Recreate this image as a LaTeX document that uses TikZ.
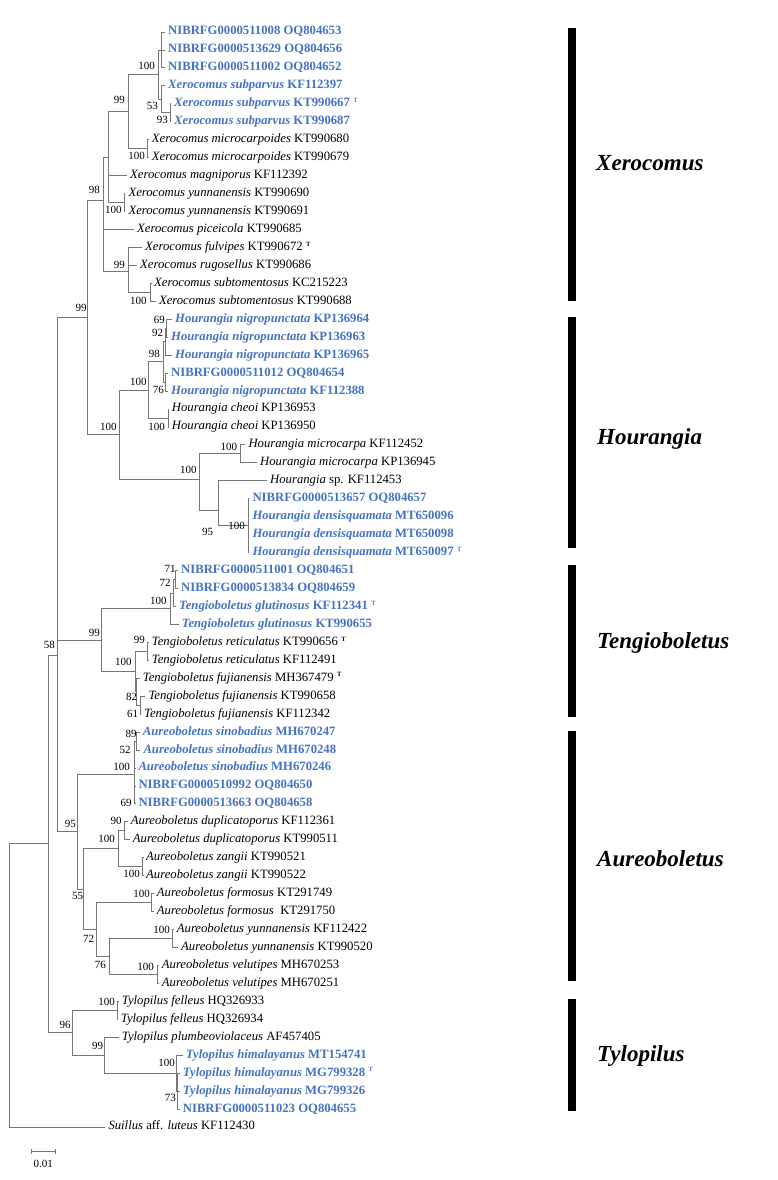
\documentclass[tikz,border=0pt]{standalone}
\usepackage{fontspec}
\setmainfont{Liberation Serif}
\usepackage{xcolor}
\usepackage{tikz}
\usetikzlibrary{positioning}
\definecolor{nibblue}{RGB}{68,114,196}
\definecolor{brgray}{RGB}{118,118,118}
\def\sn#1#2{\textit{#1} #2}
\def\bsn#1#2{\textcolor{nibblue}{\bfseries\textit{#1} #2}}
\def\nib#1{\textcolor{nibblue}{\bfseries #1}}
\def\ty{\hspace{3.5pt}\raisebox{4.3pt}{\fontsize{6.5}{7}\selectfont\bfseries T}}
\tikzset{
  br/.style={brgray, line width=0.8pt},
  leaf/.style={anchor=west, inner xsep=3pt, inner ysep=0pt, text height=9pt, text depth=3pt, font=\fontsize{12.7}{14}\selectfont},
  bs/.style={anchor=base east, inner sep=0pt, font=\fontsize{11}{12}\selectfont},
  clade/.style={anchor=base west, inner sep=0pt, font=\fontsize{23}{26}\selectfont\bfseries\itshape},
  cbar/.style={fill=black}
}

\begin{document}
\begin{tikzpicture}[x=1pt, y=-1pt]
\useasboundingbox (0,0) rectangle (777,1180);

% leaves
\node[leaf] (l1) at (165,32.00) {\nib{NIBRFG0000511008 OQ804653}};
\node[leaf] (l2) at (165,49.95) {\nib{NIBRFG0000513629 OQ804656}};
\node[leaf] (l3) at (165,67.90) {\nib{NIBRFG0000511002 OQ804652}};
\node[leaf] (l4) at (165,85.85) {\bsn{Xerocomus subparvus}{KF112397}};
\node[leaf] (l5) at (171,103.80) {\bsn{Xerocomus subparvus}{KT990667\ty}};
\node[leaf] (l6) at (171,121.75) {\bsn{Xerocomus subparvus}{KT990687}};
\node[leaf] (l7) at (148.7,139.70) {\sn{Xerocomus microcarpoides}{KT990680}};
\node[leaf] (l8) at (148.7,157.65) {\sn{Xerocomus microcarpoides}{KT990679}};
\node[leaf] (l9) at (127,175.60) {\sn{Xerocomus magniporus}{KF112392}};
\node[leaf] (l10) at (125.3,193.55) {\sn{Xerocomus yunnanensis}{KT990690}};
\node[leaf] (l11) at (125.3,211.50) {\sn{Xerocomus yunnanensis}{KT990691}};
\node[leaf] (l12) at (134,229.45) {\sn{Xerocomus piceicola}{KT990685}};
\node[leaf] (l13) at (142,247.40) {\sn{Xerocomus fulvipes}{KT990672\ty}};
\node[leaf] (l14) at (137,265.35) {\sn{Xerocomus rugosellus}{KT990686}};
\node[leaf] (l15) at (151,283.30) {\sn{Xerocomus subtomentosus}{KC215223}};
\node[leaf] (l16) at (155.8,301.25) {\sn{Xerocomus subtomentosus}{KT990688}};
\node[leaf] (l17) at (172,319.20) {\bsn{Hourangia nigropunctata}{KP136964}};
\node[leaf] (l18) at (168,337.15) {\bsn{Hourangia nigropunctata}{KP136963}};
\node[leaf] (l19) at (172,355.10) {\bsn{Hourangia nigropunctata}{KP136965}};
\node[leaf] (l20) at (168,373.05) {\nib{NIBRFG0000511012 OQ804654}};
\node[leaf] (l21) at (168,391.00) {\bsn{Hourangia nigropunctata}{KF112388}};
\node[leaf] (l22) at (168.7,408.95) {\sn{Hourangia cheoi}{KP136953}};
\node[leaf] (l23) at (168.7,426.90) {\sn{Hourangia cheoi}{KP136950}};
\node[leaf] (l24) at (245.3,444.85) {\sn{Hourangia microcarpa}{KF112452}};
\node[leaf] (l25) at (257,462.80) {\sn{Hourangia microcarpa}{KP136945}};
\node[leaf] (l26) at (267,480.75) {\sn{Hourangia}{sp. KF112453}};
\node[leaf] (l27) at (249.3,498.70) {\nib{NIBRFG0000513657 OQ804657}};
\node[leaf] (l28) at (249.3,516.65) {\bsn{Hourangia densisquamata}{MT650096}};
\node[leaf] (l29) at (249.3,534.60) {\bsn{Hourangia densisquamata}{MT650098}};
\node[leaf] (l30) at (249.3,552.55) {\bsn{Hourangia densisquamata}{MT650097\ty}};
\node[leaf] (l31) at (178,570.50) {\nib{NIBRFG0000511001 OQ804651}};
\node[leaf] (l32) at (178,588.45) {\nib{NIBRFG0000513834 OQ804659}};
\node[leaf] (l33) at (176,606.40) {\bsn{Tengioboletus glutinosus}{KF112341\ty}};
\node[leaf] (l34) at (178.7,624.35) {\bsn{Tengioboletus glutinosus}{KT990655}};
\node[leaf] (l35) at (148.7,642.30) {\sn{Tengioboletus reticulatus}{KT990656\ty}};
\node[leaf] (l36) at (148.7,660.25) {\sn{Tengioboletus reticulatus}{KF112491}};
\node[leaf] (l37) at (139.7,678.20) {\sn{Tengioboletus fujianensis}{MH367479\ty}};
\node[leaf] (l38) at (145.3,696.15) {\sn{Tengioboletus fujianensis}{KT990658}};
\node[leaf] (l39) at (141,714.10) {\sn{Tengioboletus fujianensis}{KF112342}};
\node[leaf] (l40) at (139.7,732.05) {\bsn{Aureoboletus sinobadius}{MH670247}};
\node[leaf] (l41) at (140.3,750.00) {\bsn{Aureoboletus sinobadius}{MH670248}};
\node[leaf] (l42) at (135.3,767.95) {\bsn{Aureoboletus sinobadius}{MH670246}};
\node[leaf] (l43) at (135.3,785.90) {\nib{NIBRFG0000510992 OQ804650}};
\node[leaf] (l44) at (135.3,803.85) {\nib{NIBRFG0000513663 OQ804658}};
\node[leaf] (l45) at (127.7,821.80) {\sn{Aureoboletus duplicatoporus}{KF112361}};
\node[leaf] (l46) at (129.7,839.75) {\sn{Aureoboletus duplicatoporus}{KT990511}};
\node[leaf] (l47) at (143,857.70) {\sn{Aureoboletus zangii}{KT990521}};
\node[leaf] (l48) at (143,875.65) {\sn{Aureoboletus zangii}{KT990522}};
\node[leaf] (l49) at (153.7,893.60) {\sn{Aureoboletus formosus}{KT291749}};
\node[leaf] (l50) at (153.7,911.55) {\sn{Aureoboletus formosus}{\ KT291750}};
\node[leaf] (l51) at (173.7,929.50) {\sn{Aureoboletus yunnanensis}{KF112422}};
\node[leaf] (l52) at (178,947.45) {\sn{Aureoboletus yunnanensis}{KT990520}};
\node[leaf] (l53) at (158.7,965.40) {\sn{Aureoboletus velutipes}{MH670253}};
\node[leaf] (l54) at (158.7,983.35) {\sn{Aureoboletus velutipes}{MH670251}};
\node[leaf] (l55) at (118.7,1001.30) {\sn{Tylopilus felleus}{HQ326933}};
\node[leaf] (l56) at (117.7,1019.25) {\sn{Tylopilus felleus}{HQ326934}};
\node[leaf] (l57) at (118.7,1037.20) {\sn{Tylopilus plumbeoviolaceus}{AF457405}};
\node[leaf] (l58) at (182.7,1055.15) {\bsn{Tylopilus himalayanus}{MT154741}};
\node[leaf] (l59) at (179.7,1073.10) {\bsn{Tylopilus himalayanus}{MG799328\ty}};
\node[leaf] (l60) at (179.7,1091.05) {\bsn{Tylopilus himalayanus}{MG799326}};
\node[leaf] (l61) at (179.7,1109.00) {\nib{NIBRFG0000511023 OQ804655}};
\node[leaf] (l62) at (105.3,1126.95) {\textit{Suillus} aff. \textit{luteus} KF112430};

% internal nodes
\coordinate (p1) at (161.7,49.95);
\coordinate (n93) at (170,112.8);
\coordinate (n53) at (161.7,99.3);
\coordinate (n100a) at (158,74.6);
\coordinate (nmic) at (147.7,148.7);
\coordinate (n99x) at (128.3,111.6);
\coordinate (nyun) at (124,202.5);
\coordinate (na) at (108,157);
\coordinate (nsubt) at (150.5,292.3);
\coordinate (n99f) at (128.3,271);
\coordinate (n98) at (103,200);
\coordinate (n69h) at (166.5,328.2);
\coordinate (n92) at (165.7,341.6);
\coordinate (n76h) at (165.7,382);
\coordinate (n98h) at (163.3,361.8);
\coordinate (ncheoi) at (168.3,417.9);
\coordinate (nhn) at (148.3,389.9);
\coordinate (nmic2) at (240,453.8);
\coordinate (nden) at (248.3,525.6);
\coordinate (n95) at (218.3,510);
\coordinate (nhm) at (199,479);
\coordinate (nhou) at (119.3,434);
\coordinate (n99) at (87.3,317);
\coordinate (n71) at (175.7,579.5);
\coordinate (n72) at (173.3,593);
\coordinate (nglu) at (170,608.7);
\coordinate (nret99) at (147.3,651.3);
\coordinate (n61) at (140,705.1);
\coordinate (n82) at (136.7,691.7);
\coordinate (nret) at (135,671.5);
\coordinate (n99t) at (101,640);
\coordinate (n89) at (136.7,741);
\coordinate (n52) at (134.8,754.5);
\coordinate (n69a) at (134.8,794.9);
\coordinate (nsino) at (134.3,774.7);
\coordinate (ndup) at (124.3,830.8);
\coordinate (nzan) at (142.7,866.7);
\coordinate (ndz) at (118.3,848.7);
\coordinate (nfor) at (151.7,902.6);
\coordinate (nyun2) at (172.3,938.5);
\coordinate (nvel) at (157.3,974.4);
\coordinate (n76a) at (109.3,956.4);
\coordinate (n72a) at (96.7,929.5);
\coordinate (n55) at (83.3,889);
\coordinate (n95a) at (77.3,831.8);
\coordinate (n58) at (57.3,655);
\coordinate (nfel) at (117.3,1010.3);
\coordinate (n73) at (177.7,1091);
\coordinate (nhim) at (176.7,1073);
\coordinate (n99ty) at (104.3,1055);
\coordinate (ntyl) at (72.7,1032.7);
\coordinate (nin) at (48.3,843.8);
\coordinate (root) at (9,985.4);

% branches
\draw[br] (p1) |- (l1) (p1) |- (l2) (p1) |- (l3);
\draw[br] (n93) |- (l5) (n93) |- (l6);
\draw[br] (n53) |- (l4) (n53) |- (n93);
\draw[br] (n100a) |- (p1) (n100a) |- (n53);
\draw[br] (nmic) |- (l7) (nmic) |- (l8);
\draw[br] (n99x) |- (n100a) (n99x) |- (nmic);
\draw[br] (nyun) |- (l10) (nyun) |- (l11);
\draw[br] (na) |- (n99x) (na) |- (l9) (na) |- (nyun);
\draw[br] (nsubt) |- (l15) (nsubt) |- (l16);
\draw[br] (n99f) |- (l13) (n99f) |- (l14) (n99f) |- (nsubt);
\draw[br] (n98) |- (na) (n98) |- (l12) (n98) |- (n99f);
\draw[br] (n69h) |- (l17) (n69h) |- (l18);
\draw[br] (n92) |- (n69h) (n92) |- (l19);
\draw[br] (n76h) |- (l20) (n76h) |- (l21);
\draw[br] (n98h) |- (n92) (n98h) |- (n76h);
\draw[br] (ncheoi) |- (l22) (ncheoi) |- (l23);
\draw[br] (nhn) |- (n98h) (nhn) |- (ncheoi);
\draw[br] (nmic2) |- (l24) (nmic2) |- (l25);
\draw[br] (nden) |- (l27) (nden) |- (l28) (nden) |- (l29) (nden) |- (l30);
\draw[br] (n95) |- (l26) (n95) |- (nden);
\draw[br] (nhm) |- (nmic2) (nhm) |- (n95);
\draw[br] (nhou) |- (nhn) (nhou) |- (nhm);
\draw[br] (n99) |- (n98) (n99) |- (nhou);
\draw[br] (n71) |- (l31) (n71) |- (l32);
\draw[br] (n72) |- (n71) (n72) |- (l33);
\draw[br] (nglu) |- (n72) (nglu) |- (l34);
\draw[br] (nret99) |- (l35) (nret99) |- (l36);
\draw[br] (n61) |- (l38) (n61) |- (l39);
\draw[br] (n82) |- (l37) (n82) |- (n61);
\draw[br] (nret) |- (nret99) (nret) |- (n82);
\draw[br] (n99t) |- (nglu) (n99t) |- (nret);
\draw[br] (n89) |- (l40) (n89) |- (l41);
\draw[br] (n52) |- (n89) (n52) |- (l42);
\draw[br] (n69a) |- (l43) (n69a) |- (l44);
\draw[br] (nsino) |- (n52) (nsino) |- (n69a);
\draw[br] (ndup) |- (l45) (ndup) |- (l46);
\draw[br] (nzan) |- (l47) (nzan) |- (l48);
\draw[br] (ndz) |- (ndup) (ndz) |- (nzan);
\draw[br] (nfor) |- (l49) (nfor) |- (l50);
\draw[br] (nyun2) |- (l51) (nyun2) |- (l52);
\draw[br] (nvel) |- (l53) (nvel) |- (l54);
\draw[br] (n76a) |- (nyun2) (n76a) |- (nvel);
\draw[br] (n72a) |- (nfor) (n72a) |- (n76a);
\draw[br] (n55) |- (ndz) (n55) |- (n72a);
\draw[br] (n95a) |- (nsino) (n95a) |- (n55);
\draw[br] (n58) |- (n99) (n58) |- (n99t) (n58) |- (n95a);
\draw[br] (nfel) |- (l55) (nfel) |- (l56);
\draw[br] (n73) |- (l59) (n73) |- (l60) (n73) |- (l61);
\draw[br] (nhim) |- (l58) (nhim) |- (n73);
\draw[br] (n99ty) |- (l57) (n99ty) |- (nhim);
\draw[br] (ntyl) |- (nfel) (ntyl) |- (n99ty);
\draw[br] (nin) |- (n58) (nin) |- (ntyl);
\draw[br] (root) |- (nin) (root) |- (l62);

% bootstrap values
\node[bs] (s1) at (155,69.5) {100};
\node[bs] (s2) at (158,110) {53};
\node[bs] (s3) at (168,123.5) {93};
\node[bs] (s4) at (125,104) {99};
\node[bs] (s5) at (145,160) {100};
\node[bs] (s6) at (100,193.5) {98};
\node[bs] (s7) at (121.7,213.5) {100};
\node[bs] (s8) at (125,268) {99};
\node[bs] (s9) at (146.7,304) {100};
\node[bs] (s10) at (86.7,311.7) {99};
\node[bs] (s11) at (165,323.3) {69};
\node[bs] (s12) at (163.3,336.7) {92};
\node[bs] (s13) at (160,357.3) {98};
\node[bs] (s14) at (146.7,385) {100};
\node[bs] (s15) at (164,393.3) {76};
\node[bs] (s16) at (165,430) {100};
\node[bs] (s17) at (116.7,430) {100};
\node[bs] (s18) at (237.3,450) {100};
\node[bs] (s19) at (196.7,473.3) {100};
\node[bs] (s20) at (213.3,535) {95};
\node[bs] (s21) at (245,529.3) {100};
\node[bs] (s22) at (55,648.3) {58};
\node[bs] (s23) at (100,636) {99};
\node[bs] (s24) at (175.7,572.7) {71};
\node[bs] (s25) at (170.7,586.7) {72};
\node[bs] (s26) at (166.7,604.3) {100};
\node[bs] (s27) at (145,643.3) {99};
\node[bs] (s28) at (131.7,665) {100};
\node[bs] (s29) at (137.3,700) {82};
\node[bs] (s30) at (138.3,717.3) {61};
\node[bs] (s31) at (136.7,737.3) {89};
\node[bs] (s32) at (130.7,753.3) {52};
\node[bs] (s33) at (130,770) {100};
\node[bs] (s34) at (131.7,806) {69};
\node[bs] (s35) at (76,827.3) {95};
\node[bs] (s36) at (121.7,824) {90};
\node[bs] (s37) at (115,842.7) {100};
\node[bs] (s38) at (140,877.3) {100};
\node[bs] (s39) at (83.3,899.3) {55};
\node[bs] (s40) at (150,897.3) {100};
\node[bs] (s41) at (94.3,942.7) {72};
\node[bs] (s42) at (170,933.3) {100};
\node[bs] (s43) at (106,968.3) {76};
\node[bs] (s44) at (154,970) {100};
\node[bs] (s45) at (115,1005) {100};
\node[bs] (s46) at (70.7,1028.3) {96};
\node[bs] (s47) at (103.3,1049.3) {99};
\node[bs] (s48) at (175,1066.7) {100};
\node[bs] (s49) at (176,1101.7) {73};

% scale bar
\coordinate (sb1) at (31.7,1151.7);
\coordinate (sb2) at (55,1151.7);
\coordinate (sbm) at (43.3,1151.7);
\draw[br, line width=0.6pt] (sb1) -- (sb2);
\draw[br, line width=0.6pt] ([yshift=2.3pt]sb1) -- ([yshift=-2.3pt]sb1);
\draw[br, line width=0.6pt] ([yshift=2.3pt]sb2) -- ([yshift=-2.3pt]sb2);
\node[inner sep=0pt, font=\fontsize{11}{12}\selectfont, below=8.3pt of sbm] (sbl) {0.01};

% clades
\fill[cbar] (568.3,28.3) rectangle (576,301);
\fill[cbar] (568.3,317) rectangle (576,547.5);
\fill[cbar] (568.3,565) rectangle (576,716.7);
\fill[cbar] (568.3,730.7) rectangle (576,981);
\fill[cbar] (568.3,999) rectangle (576,1110.7);
\node[clade] (cx) at (596,170) {Xerocomus};
\node[clade] (ch) at (597,444) {Hourangia};
\node[clade] (ct) at (597,648.3) {Tengioboletus};
\node[clade] (ca) at (597,866) {Aureoboletus};
\node[clade] (cy) at (597,1061.7) {Tylopilus};
\end{tikzpicture}
\end{document}
